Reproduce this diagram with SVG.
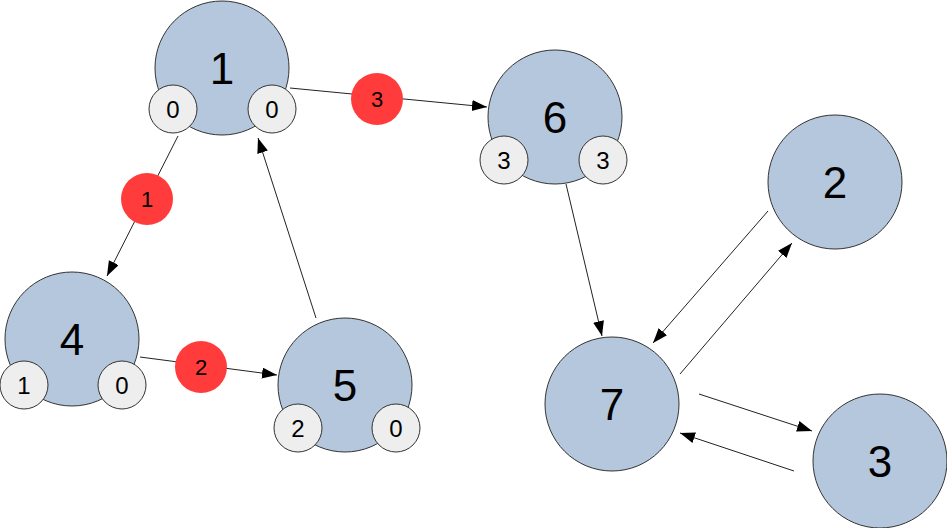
<svg xmlns="http://www.w3.org/2000/svg" width="947" height="528" viewBox="0 0 947 528">
<defs>
<style>
.node{fill:#b4c7dc;stroke:#333;stroke-width:1}
.sub{fill:#eeeeee;stroke:#333;stroke-width:1}
.big{font-family:"Liberation Sans",Arial,sans-serif;font-size:44px;fill:#000;text-anchor:middle}
.small{font-family:"Liberation Sans",Arial,sans-serif;font-size:24px;fill:#000;text-anchor:middle}
.wt{fill:#ff3b3b}
.wtxt{font-family:"Liberation Sans",Arial,sans-serif;font-size:22px;fill:#000;text-anchor:middle}
.edge{stroke:#222;stroke-width:1;fill:none;marker-end:url(#arr)}
</style>
<marker id="arr" markerUnits="userSpaceOnUse" markerWidth="16" markerHeight="12" refX="15" refY="5.5" orient="auto">
<path d="M0,0 L15,5.5 L0,11 z" fill="#000"/>
</marker>
</defs>
<rect width="947" height="528" fill="#fff"/>
<g id="connectors">
<line class="edge" x1="178" y1="136" x2="107" y2="276"/>
<line class="edge" x1="290" y1="88" x2="487" y2="107"/>
<line class="edge" x1="140" y1="357" x2="277" y2="375"/>
<line class="edge" x1="316" y1="318" x2="258" y2="138"/>
<line class="edge" x1="566" y1="184" x2="602" y2="336"/>
<line class="edge" x1="768" y1="211" x2="653" y2="343"/>
<line class="edge" x1="680" y1="374" x2="792" y2="243"/>
<line class="edge" x1="699" y1="394" x2="812" y2="431"/>
<line class="edge" x1="794" y1="471" x2="680" y2="433"/>
</g>
<g id="w1"><circle class="wt" cx="147" cy="199" r="26"/><text class="wtxt" x="147" y="207">1</text></g>
<g id="w3"><circle class="wt" cx="377" cy="99" r="26"/><text class="wtxt" x="377" y="107">3</text></g>
<g id="w2"><circle class="wt" cx="201" cy="367" r="26"/><text class="wtxt" x="201" y="375">2</text></g>
<g id="node1">
<circle class="node" cx="222" cy="68" r="67"/><text class="big" x="222" y="84">1</text>
<circle class="sub" cx="173" cy="109" r="24"/><text class="small" x="173" y="118">0</text>
<circle class="sub" cx="272" cy="109" r="24"/><text class="small" x="272" y="118">0</text>
</g>
<g id="node6">
<circle class="node" cx="555" cy="117" r="67"/><text class="big" x="555" y="133">6</text>
<circle class="sub" cx="504" cy="160" r="24"/><text class="small" x="504" y="169">3</text>
<circle class="sub" cx="603" cy="160" r="24"/><text class="small" x="603" y="169">3</text>
</g>
<g id="node4">
<circle class="node" cx="72" cy="339" r="67"/><text class="big" x="72" y="355">4</text>
<circle class="sub" cx="24" cy="385" r="24"/><text class="small" x="24" y="394">1</text>
<circle class="sub" cx="122" cy="385" r="24"/><text class="small" x="122" y="394">0</text>
</g>
<g id="node5">
<circle class="node" cx="345" cy="385" r="67"/><text class="big" x="345" y="401">5</text>
<circle class="sub" cx="298" cy="428" r="24"/><text class="small" x="298" y="437">2</text>
<circle class="sub" cx="396" cy="428" r="24"/><text class="small" x="396" y="437">0</text>
</g>
<g id="node2"><circle class="node" cx="835" cy="182" r="67"/><text class="big" x="835" y="198">2</text></g>
<g id="node7"><circle class="node" cx="612" cy="404" r="67"/><text class="big" x="612" y="420">7</text></g>
<g id="node3"><circle class="node" cx="880" cy="461" r="67"/><text class="big" x="880" y="477">3</text></g>
</svg>
